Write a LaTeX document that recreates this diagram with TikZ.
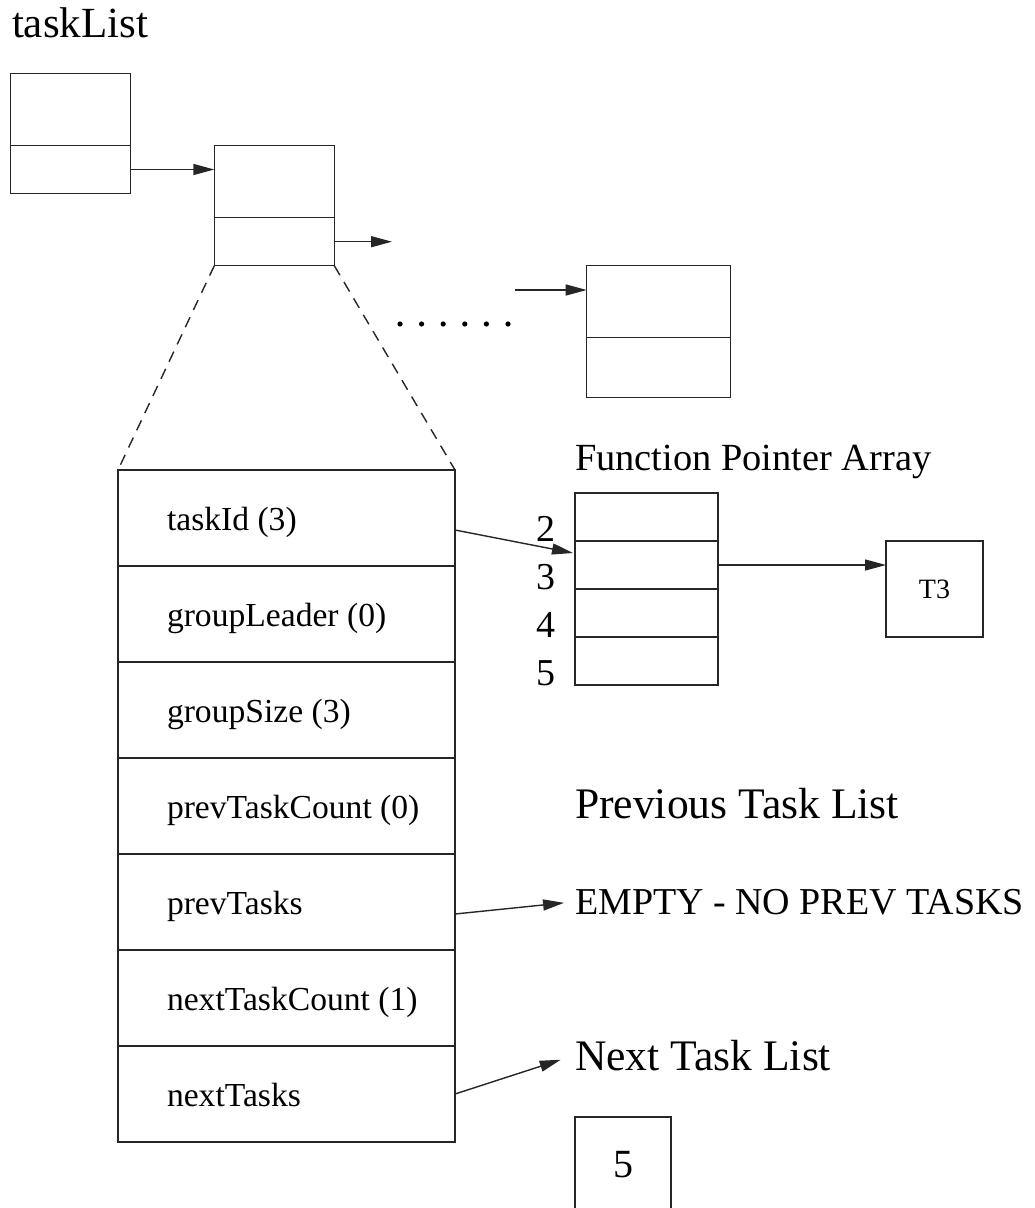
\documentclass[tikz,border=0pt]{standalone}
\usepackage{fontspec}
\setmainfont{Liberation Serif}
\usetikzlibrary{arrows.meta}
\newcommand\setfs[1]{\fontsize{#1}{#1}\selectfont}
\begin{document}
\begin{tikzpicture}[x=0.5pt,y=-0.5pt,
  cell/.style={draw=black!85, line width=0.7pt, rectangle, inner sep=0pt, outer sep=0pt},
  lbl/.style={inner sep=0pt, outer sep=0pt, anchor=base west},
  ptr/.style={draw=black!85, line width=0.7pt, -{Triangle[length=10.5pt,width=5.5pt]}},
  zoomline/.style={draw=black!85, line width=0.7pt, dash pattern=on 5.5pt off 4pt}]
\useasboundingbox (0,0) rectangle (1034,1208);

% list head and linked task nodes
\node[lbl, font=\setfs{21.5pt}] (title) at (12,38) {taskList};
\node[cell, minimum width=60pt, minimum height=36.2pt] (aTop) at (70.5,109.5) {};
\node[cell, minimum width=60pt, minimum height=23.8pt] (aBot) at (70.5,169.5) {};
\node[cell, minimum width=60pt, minimum height=36pt] (bTop) at (274.3,181.7) {};
\node[cell, minimum width=60pt, minimum height=24pt] (bBot) at (274.3,241.7) {};
\node[cell, minimum width=72pt, minimum height=36pt] (cTop) at (658.7,301.7) {};
\node[cell, minimum width=72pt, minimum height=29.8pt] (cBot) at (658.7,367.5) {};

\draw[ptr] (aBot.east) -- (aBot.east -| bTop.west);
\coordinate (bNext) at (392,241.7);
\draw[ptr] (bBot.east) -- (bNext);
\coordinate (cPrev) at (515,290);
\draw[ptr] (cPrev) -- (cPrev -| cTop.west);

% ellipsis between the nodes
\foreach \i in {0,...,5}
  \fill[black] (400+21.6*\i,324) circle (1.3pt);

% expanded task record
\foreach \txt [count=\i] in {taskId (3),groupLeader (0),groupSize (3),prevTaskCount (0),prevTasks,nextTaskCount (1),nextTasks} {
  \node[cell, minimum width=168.5pt, minimum height=48pt] (f\i) at (286.5,{470+96*\i-48}) {};
  \node[lbl, font=\setfs{16.8pt}] (t\i) at (167,{470+96*\i-36}) {\txt};
}
\draw[zoomline] (bBot.south west) -- (f1.north west);
\draw[zoomline] (bBot.south east) -- (f1.north east);

% function pointer array
\node[lbl, font=\setfs{19.2pt}] (fpaTitle) at (575,470) {Function Pointer Array};
\foreach \k [count=\i] in {2,3,4,5} {
  \node[cell, minimum width=71.5pt, minimum height=24pt] (fp\i) at (646.5,{493+48*\i-24}) {};
  \node[inner sep=0pt, anchor=base east, font=\setfs{19pt}] (idx\k) at (556,{493+48*\i}) {\k};
}
\node[cell, minimum width=48.5pt, minimum height=48pt, font=\setfs{14pt}] (tThree) at (934.5,589) {T3};
\draw[ptr] (t1.base -| f1.east) -- ([yshift=6pt,xshift=-1pt]fp2.west);
\draw[ptr] (fp2.east) -- (fp2.east -| tThree.west);

% previous and next task lists
\node[lbl, font=\setfs{21.8pt}] (prevTitle) at (575,818) {Previous Task List};
\node[lbl, font=\setfs{19pt}] (prevEmpty) at (575,914) {EMPTY - NO PREV TASKS};
\draw[ptr, shorten >=5.5pt] (t5.base -| f5.east) -- (prevEmpty.west);

\node[lbl, font=\setfs{21.8pt}] (nextTitle) at (575,1070) {Next Task List};
\draw[ptr, shorten >=7.5pt] (f7.east) -- (nextTitle.west);
\node[cell, minimum width=48pt, minimum height=70pt, anchor=north] (nextBox) at (623,1117) {};
\node[inner sep=0pt, anchor=base, font=\setfs{20pt}] (nextVal) at (623,1177) {5};
\end{tikzpicture}
\end{document}
